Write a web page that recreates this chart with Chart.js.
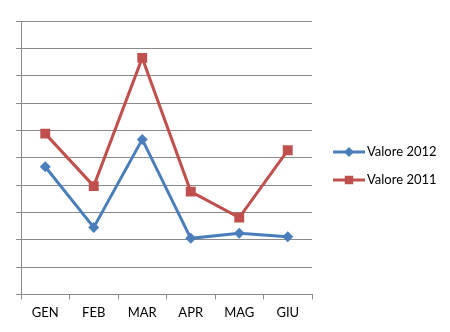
<!DOCTYPE html>
<html>
<head>
<meta charset="utf-8">
<script src="https://cdn.jsdelivr.net/npm/chart.js@4.4.1/dist/chart.umd.min.js"></script>
<style>
  html, body { margin: 0; padding: 0; background: #fff; }
  #wrap { width: 450px; height: 332px; }
</style>
</head>
<body>
<div id="wrap"><canvas id="myChart" width="450" height="332"></canvas></div>
<script>
const mesi = ['GEN', 'FEB', 'MAR', 'APR', 'MAG', 'GIU'];
const valore2012 = [4.67, 2.45, 5.67, 2.05, 2.24, 2.11];
const valore2011 = [5.88, 3.96, 8.65, 3.76, 2.81, 5.27];

const BLU = '#4a7ebb';
const ROSSO = '#c0504d';

// legend on the right: line with marker in the middle, like the series
const legendaDestra = {
    id: 'legendaDestra',
    afterDraw: (chart) => {
        const ctx = chart.ctx;
        const items = [
            { label: 'Valore 2012', color: BLU, style: 'rectRot', y: 152 },
            { label: 'Valore 2011', color: ROSSO, style: 'rect', y: 180 },
        ];
        ctx.save();
        items.forEach((it) => {
            ctx.strokeStyle = it.color;
            ctx.lineWidth = 3;
            ctx.beginPath();
            ctx.moveTo(333, it.y);
            ctx.lineTo(365, it.y);
            ctx.stroke();
            ctx.fillStyle = it.color;
            Chart.helpers.drawPoint(ctx, { pointStyle: it.style, radius: it.style === 'rect' ? 6 : 5, borderWidth: 0 }, 349, it.y);
            ctx.fillStyle = '#000';
            ctx.font = '13px Lato, "Open Sans", sans-serif';
            ctx.textBaseline = 'middle';
            ctx.fillText(it.label, 367, it.y);
        });
        ctx.restore();
    },
};

const ctx = document.getElementById('myChart').getContext('2d');
const myChart = new Chart(ctx, {
    type: 'line',
    data: {
        labels: mesi,
        datasets: [
            {
                label: 'Valore 2012',
                data: valore2012,
                borderColor: BLU,
                backgroundColor: BLU,
                borderWidth: 3,
                pointStyle: 'rectRot',
                pointRadius: 5.5,
                pointBorderWidth: 0,
                tension: 0,
            },
            {
                label: 'Valore 2011',
                data: valore2011,
                borderColor: ROSSO,
                backgroundColor: ROSSO,
                borderWidth: 3,
                pointStyle: 'rect',
                pointRadius: 7,
                pointBorderWidth: 0,
                tension: 0,
            },
        ],
    },
    options: {
        responsive: false,
        animation: false,
        layout: { padding: { top: 21, right: 138, left: 16, bottom: 5 } },
        plugins: {
            legend: { display: false },
            tooltip: { enabled: false },
        },
        scales: {
            x: {
                offset: true,
                grid: {
                    offset: true,
                    drawOnChartArea: false,
                    drawTicks: true,
                    tickLength: 5,
                    color: '#8a8a8a',
                },
                border: { color: '#8a8a8a', width: 1 },
                ticks: {
                    color: '#000',
                    font: { family: 'Lato, "Open Sans", sans-serif', size: 13 },
                    padding: 6,
                    maxRotation: 0,
                },
            },
            y: {
                min: 0,
                max: 10,
                grid: {
                    color: '#8a8a8a',
                    tickLength: 5,
                },
                border: { color: '#8a8a8a', width: 1 },
                ticks: { stepSize: 1, display: false },
            },
        },
    },
    plugins: [legendaDestra],
});
</script>
</body>
</html>
